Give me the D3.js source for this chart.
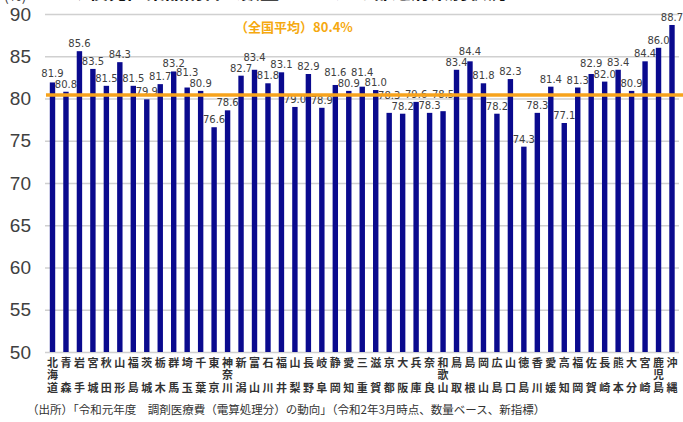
<!DOCTYPE html>
<html>
<head>
<meta charset="utf-8">
<script src="https://cdn.jsdelivr.net/npm/d3@7"></script>
<style>
    body { margin: 0; background: #fff; }
    svg { display: block; }
    .ytick { font-family: "Liberation Sans Narrow", "Liberation Sans", sans-serif; font-size: 19px; fill: #404040; }
    .vlabel { font-family: "DejaVu Sans", sans-serif; font-size: 10px; fill: #404040; }
    .pref { font-family: "Noto Sans CJK JP", sans-serif; font-size: 11px; font-weight: bold; fill: #333; writing-mode: vertical-rl; }
    .note { font-family: "Noto Sans CJK JP", sans-serif; font-size: 11.5px; fill: #333; }
</style>
</head>
<body>
<script>
// prefectures (written vertically under the bars)
var prefectures = ["北海道", "青森", "岩手", "宮城", "秋田", "山形", "福島", "茨城", "栃木", "群馬",
    "埼玉", "千葉", "東京", "神奈川", "新潟", "富山", "石川", "福井", "山梨", "長野",
    "岐阜", "静岡", "愛知", "三重", "滋賀", "京都", "大阪", "兵庫", "奈良", "和歌山",
    "鳥取", "島根", "岡山", "広島", "山口", "徳島", "香川", "愛媛", "高知", "福岡",
    "佐賀", "長崎", "熊本", "大分", "宮崎", "鹿児島", "沖縄"];

// generic drug share (%)
var shares = [81.9, 80.8, 85.6, 83.5, 81.5, 84.3, 81.5, 79.9, 81.7, 83.2,
    81.3, 80.9, 76.6, 78.6, 82.7, 83.4, 81.8, 83.1, 79.0, 82.9,
    78.9, 81.6, 80.9, 81.4, 81.0, 78.3, 78.2, 79.6, 78.3, 78.5,
    83.4, 84.4, 81.8, 78.2, 82.3, 74.3, 78.3, 81.4, 77.1, 81.3,
    82.9, 82.0, 83.4, 80.9, 84.4, 86.0, 88.7];

var nationalAverage = 80.4;
var yTicks = [50, 55, 60, 65, 70, 75, 80, 85, 90];

var width = 683, height = 422;

var svg = d3.select("body").append("svg")
    .attr("width", width)
    .attr("height", height);

var x = d3.scalePoint()
    .domain(prefectures)
    .range([52.5, 672]);

var y = d3.scaleLinear()
    .domain([50, 90])
    .range([352, 14]);

// title, cut off at the top edge
svg.append("text")
    .text("(%)")
    .attr("x", 4)
    .attr("y", 1)
    .attr("font-family", "Noto Sans CJK JP, sans-serif")
    .attr("font-size", 14)
    .attr("fill", "#404040");

svg.append("text")
    .text("◆後発医薬品割合（数量ベース）の都道府県別状況")
    .attr("x", 70)
    .attr("y", -1)
    .attr("font-family", "Noto Sans CJK JP, sans-serif")
    .attr("font-size", 19)
    .attr("font-weight", "bold")
    .attr("fill", "#111");

// gridlines + y axis labels
var yAxis = d3.axisLeft(y)
    .tickValues(yTicks)
    .tickSize(-(width - 4 - 45))
    .tickPadding(14);

var gy = svg.append("g")
    .attr("transform", "translate(45,0)")
    .call(yAxis);
gy.select(".domain").remove();
gy.selectAll(".tick line").attr("stroke", "#d0d0d0").attr("stroke-width", 1.5);
gy.selectAll(".tick text").attr("class", "ytick").attr("text-anchor", "end").attr("x", -14);

// label baselines: start just above each bar, lift the taller one when two neighbours clash
var labelY = shares.map(function(d) { return y(d) - 4; });
for (var i = 1; i < shares.length; i++) {
    if (Math.abs(labelY[i] - labelY[i - 1]) < 10) {
        if (shares[i] > shares[i - 1]) labelY[i] = labelY[i - 1] - 11;
        else labelY[i - 1] = labelY[i] - 11;
    }
}

// value labels (drawn before bars, bars sit on top of them)
svg.append("g").selectAll("text")
    .data(shares)
    .enter().append("text")
    .attr("class", "vlabel")
    .attr("x", function(d, i) { return x(prefectures[i]); })
    .attr("y", function(d, i) { return labelY[i]; })
    .attr("text-anchor", "middle")
    .text(function(d) { return d.toFixed(1); });

// bars
svg.append("g").selectAll("rect")
    .data(shares)
    .enter().append("rect")
    .attr("x", function(d, i) { return x(prefectures[i]) - 2.7; })
    .attr("width", 5.4)
    .attr("y", function(d) { return y(d); })
    .attr("height", function(d) { return y(50) - y(d); })
    .attr("fill", "#0a0a8e");

// national average line
svg.append("line")
    .attr("x1", 46)
    .attr("x2", width)
    .attr("y1", y(nationalAverage))
    .attr("y2", y(nationalAverage))
    .attr("stroke", "#f7a31c")
    .attr("stroke-width", 3.5);

svg.append("text")
    .text("（全国平均）" + nationalAverage + "%")
    .attr("x", 294)
    .attr("y", 32)
    .attr("text-anchor", "middle")
    .attr("font-family", "Noto Sans CJK JP, sans-serif")
    .attr("font-size", 13)
    .attr("font-weight", "bold")
    .attr("fill", "#f5a90f");

// prefecture names, one vertical text each; two-character names get a gap in the middle
svg.append("g").selectAll("text")
    .data(prefectures)
    .enter().append("text")
    .attr("class", "pref")
    .attr("x", function(d) { return x(d); })
    .attr("y", 357)
    .style("letter-spacing", function(d) { return d.length == 2 ? "14px" : "1.5px"; })
    .text(function(d) { return d; });

// source note
svg.append("text")
    .attr("class", "note")
    .attr("x", 27)
    .attr("y", 414)
    .text("（出所）「令和元年度　調剤医療費（電算処理分）の動向」（令和2年3月時点、数量ベース、新指標）");
</script>
</body>
</html>
